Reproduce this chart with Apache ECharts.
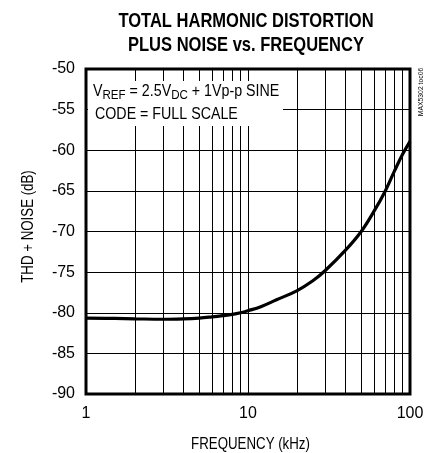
<!DOCTYPE html>
<html>
<head>
<meta charset="utf-8">
<script src="https://cdn.jsdelivr.net/npm/echarts@6/dist/echarts.min.js"></script>
<style>
html,body{margin:0;padding:0;background:#fff;}
#c{width:431px;height:453px;}
</style>
</head>
<body>
<div id="c"></div>
<script>
// Data
const freqKHz = [1, 1.5, 2, 3, 4, 5, 6, 7, 8, 9, 10, 12, 15, 20, 25, 30, 40, 50, 60, 70, 80, 90, 100];
const thdNoiseDb = [-80.65, -80.7, -80.75, -80.8, -80.75, -80.65, -80.5, -80.35, -80.2, -80.0, -79.75, -79.25, -78.4, -77.3, -76.1, -74.8, -72.3, -70.0, -67.5, -65.1, -62.6, -60.5, -58.9];
const minorGridFreqs = [2, 3, 4, 5, 6, 7, 8, 9, 20, 30, 40, 50, 60, 70, 80, 90];
const yTicks = [-90, -85, -80, -75, -70, -65, -60, -55, -50];
const titleLines = ['TOTAL HARMONIC DISTORTION', 'PLUS NOISE vs. FREQUENCY'];
const xAxisTitle = 'FREQUENCY (kHz)';
const yAxisTitle = 'THD + NOISE (dB)';
const partNote = 'MAX5302 toc06';

const FONT = "'Liberation Sans', Arial, sans-serif";

const chart = echarts.init(document.getElementById('c'), null, {renderer: 'canvas'});
chart.setOption({
  animation: false,
  backgroundColor: '#fff',
  grid: {
    left: 86, right: 21, top: 69, bottom: 59,
    show: true, borderColor: '#000', borderWidth: 3, backgroundColor: 'transparent'
  },
  xAxis: {
    type: 'log', logBase: 10, min: 1, max: 100,
    axisLine: {show: false},
    axisTick: {show: false},
    axisLabel: {fontFamily: FONT, fontSize: 16, color: '#000', margin: 12},
    splitLine: {show: true, lineStyle: {color: '#000', width: 1}}
  },
  yAxis: {
    type: 'value', min: yTicks[0], max: yTicks[yTicks.length - 1], interval: 5,
    axisLine: {show: false},
    axisTick: {show: false},
    axisLabel: {fontFamily: FONT, fontSize: 16, color: '#000', margin: 11},
    splitLine: {show: true, lineStyle: {color: '#000', width: 1}}
  },
  series: [{
    type: 'line',
    data: freqKHz.map((f, i) => [f, thdNoiseDb[i]]),
    smooth: 0.4,
    showSymbol: false,
    symbol: 'none',
    lineStyle: {color: '#000', width: 3.2},
    z: 5,
    markLine: {
      silent: true,
      symbol: ['none', 'none'],
      label: {show: false},
      lineStyle: {color: '#000', width: 1, type: 'solid'},
      emphasis: {disabled: true},
      data: minorGridFreqs.map(f => ({xAxis: f}))
    }
  }],
  graphic: [
    {
      type: 'text', x: 246, y: 21.5, z: 20, scaleX: 0.787,
      style: {text: titleLines[0], fontFamily: FONT, fontWeight: 'bold', fontSize: 21, fill: '#000', align: 'center', verticalAlign: 'middle'}
    },
    {
      type: 'text', x: 246, y: 45, z: 20, scaleX: 0.787,
      style: {text: titleLines[1], fontFamily: FONT, fontWeight: 'bold', fontSize: 21, fill: '#000', align: 'center', verticalAlign: 'middle'}
    },
    {
      type: 'rect', shape: {x: 88, y: 81, width: 195, height: 45}, z: 10,
      style: {fill: '#fff'}
    },
    {
      type: 'text', x: 93, y: 92, z: 11, scaleX: 0.89,
      style: {
        text: '{n|V}{s|REF}{n| = 2.5V}{s|DC}{n| + 1Vp-p SINE}',
        verticalAlign: 'middle', align: 'left',
        rich: {
          n: {fontFamily: FONT, fontSize: 16, lineHeight: 20, fill: '#000', verticalAlign: 'middle'},
          s: {fontFamily: FONT, fontSize: 13, lineHeight: 15, fill: '#000', verticalAlign: 'bottom'}
        }
      }
    },
    {
      type: 'text', x: 95, y: 114.5, z: 11, scaleX: 0.89,
      style: {text: 'CODE = FULL SCALE', fontFamily: FONT, fontSize: 16, fill: '#000', align: 'left', verticalAlign: 'middle'}
    },
    {
      type: 'text', x: 421, y: 92, z: 11, rotation: Math.PI / 2, scaleX: 0.85,
      style: {text: partNote, fontFamily: FONT, fontSize: 8, fill: '#000', align: 'center', verticalAlign: 'middle'}
    },
    {
      type: 'text', x: 250.5, y: 445, z: 11, scaleX: 0.83,
      style: {text: xAxisTitle, fontFamily: FONT, fontSize: 16, fill: '#000', align: 'center', verticalAlign: 'middle'}
    },
    {
      type: 'text', x: 29, y: 226.5, z: 11, rotation: Math.PI / 2, scaleX: 0.83,
      style: {text: yAxisTitle, fontFamily: FONT, fontSize: 16, fill: '#000', align: 'center', verticalAlign: 'middle'}
    }
  ]
});
</script>
</body>
</html>
